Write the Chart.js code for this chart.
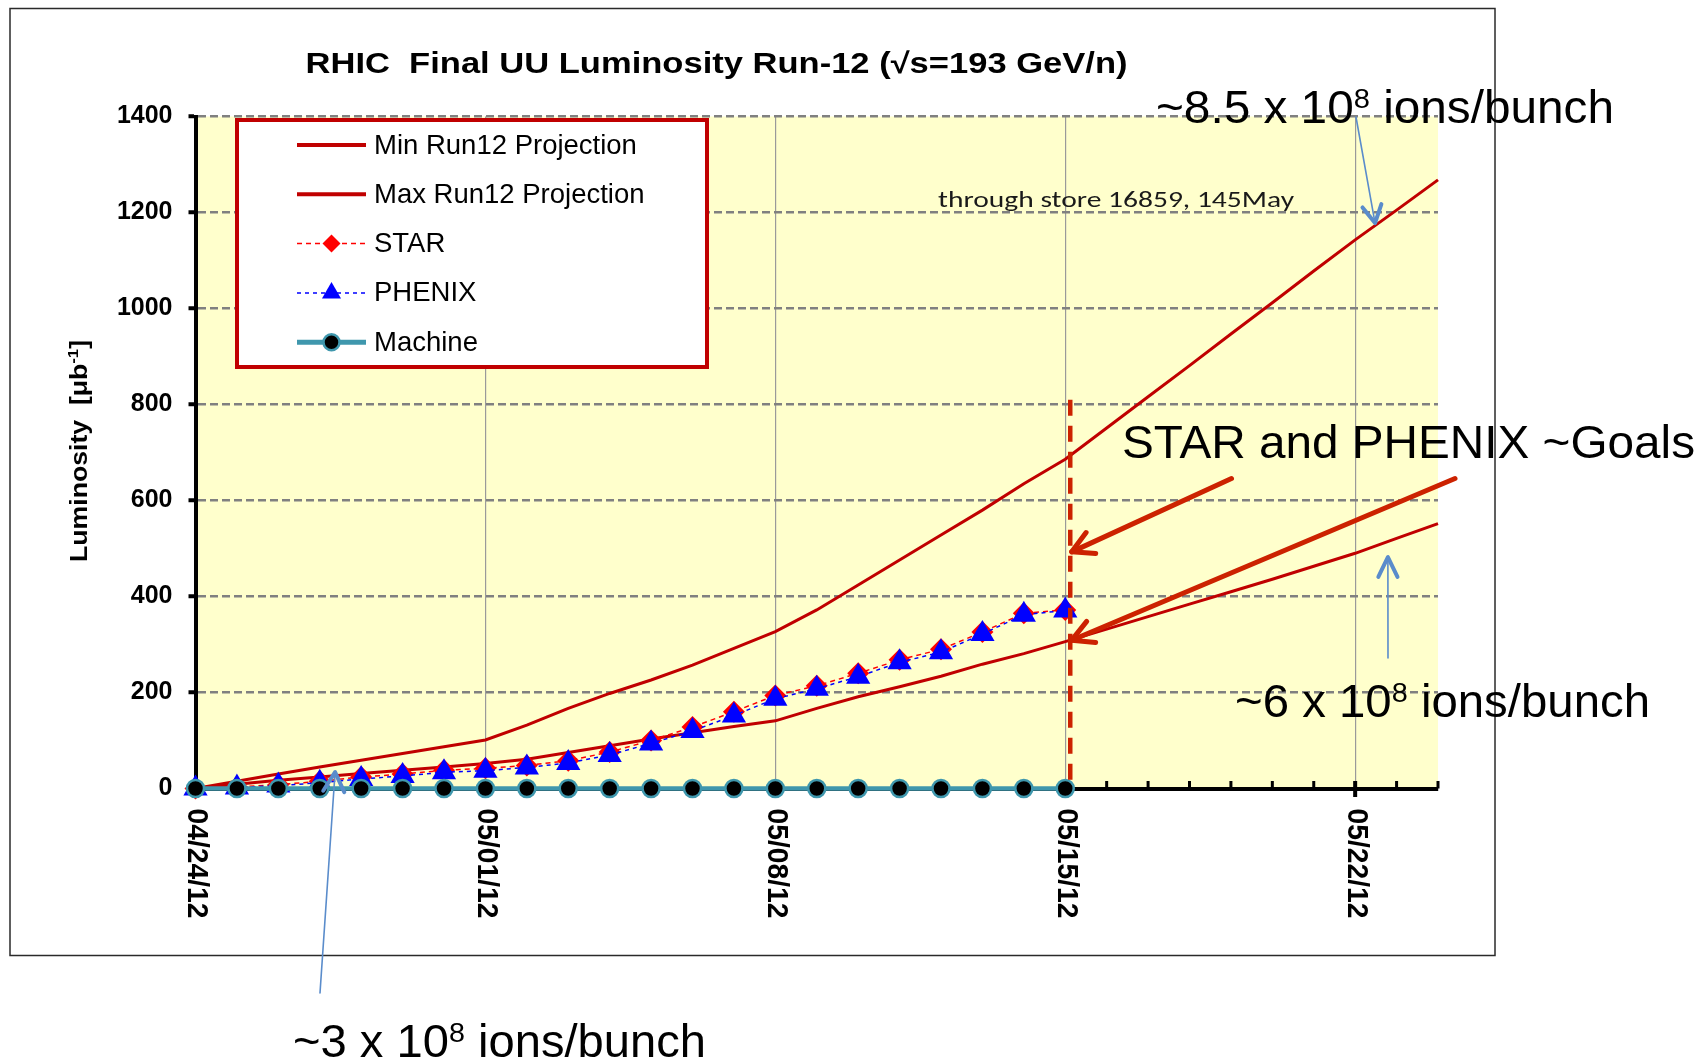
<!DOCTYPE html>
<html>
<head>
<meta charset="utf-8">
<title>RHIC Final UU Luminosity Run-12</title>
<style>
  html, body { margin: 0; padding: 0; background: #ffffff; }
  #wrap { position: relative; width: 1703px; height: 1061px; }
</style>
<script src="https://cdn.jsdelivr.net/npm/chart.js"></script>
</head>
<body>
<div id="wrap"><canvas id="chart" width="1703" height="1061"></canvas></div>
<script>
// ---------------- DATA ----------------
const dates = [
  '04/24/12','04/25/12','04/26/12','04/27/12','04/28/12','04/29/12','04/30/12',
  '05/01/12','05/02/12','05/03/12','05/04/12','05/05/12','05/06/12','05/07/12',
  '05/08/12','05/09/12','05/10/12','05/11/12','05/12/12','05/13/12','05/14/12',
  '05/15/12','05/16/12','05/17/12','05/18/12','05/19/12','05/20/12','05/21/12',
  '05/22/12','05/23/12','05/24/12'
];
const xTickLabels = ['04/24/12','05/01/12','05/08/12','05/15/12','05/22/12'];
const yTickValues = [0, 200, 400, 600, 800, 1000, 1200, 1400];

const minProjection = [0, 9, 17, 24, 31, 38, 45, 52, 61, 75, 89, 103, 116, 129, 141, 167, 191, 212, 234, 259, 281, 306, 332, 358, 384, 410, 436, 463, 490, 521, 552];
const maxProjection = [0, 15, 30, 45, 59, 73, 87, 101, 132, 167, 198, 226, 257, 292, 327, 372, 424, 476, 528, 580, 635, 686, 751, 816, 881, 947, 1012, 1078, 1143, 1205, 1268];
const starValues    = [0, 3, 8, 15, 24, 30, 38, 42, 48, 58, 76, 100, 128, 160, 194, 214, 240, 268, 290, 326, 365, 372];
const phenixValues  = [0, 2, 6, 12, 20, 26, 34, 37, 44, 53, 70, 94, 120, 152, 187, 208, 233, 263, 284, 322, 362, 371];
const machineValues = [0, 0, 0, 0, 0, 0, 0, 0, 0, 0, 0, 0, 0, 0, 0, 0, 0, 0, 0, 0, 0, 0];

const seriesNames = ['Min Run12 Projection', 'Max Run12 Projection', 'STAR', 'PHENIX', 'Machine'];
const chartTitle = 'RHIC  Final UU Luminosity Run-12 (\u221As=193 GeV/n)';
const yTitleParts = [{t: 'Luminosity  [\u03BCb'}, {t: '-1', sup: true}, {t: ']'}];
const storeNote = 'through store 16859, 145May';
const goalsNote = 'STAR and PHENIX ~Goals';
const ions85 = [{t: '~8.5 x 10'}, {t: '8', sup: true}, {t: ' ions/bunch'}];
const ions6  = [{t: '~6 x 10'}, {t: '8', sup: true}, {t: ' ions/bunch'}];
const ions3  = [{t: '~3 x 10'}, {t: '8', sup: true}, {t: ' ions/bunch'}];

// ---------------- STYLE ----------------
const ARIAL = "'Liberation Sans', Arial, sans-serif";
const CALIBRI = "Carlito, Lato, 'Open Sans', sans-serif";
const PROJ_RED = '#C00000';
const ANNOT_RED = '#CC2200';
const ANNOT_BLUE = '#5A8CCB';
const TEAL = '#3F97AD';

// ---------------- HELPERS ----------------
function drawRich(ctx, parts, o) {
  ctx.save();
  ctx.translate(o.x, o.y);
  if (o.rotate) ctx.rotate(o.rotate);
  ctx.textBaseline = 'alphabetic';
  ctx.textAlign = 'left';
  ctx.fillStyle = o.color || '#000';
  const fontFor = sup => `${o.weight || 'normal'} ${sup ? o.supSize : o.size}px ${o.family}`;
  let total = 0;
  const widths = parts.map(p => { ctx.font = fontFor(p.sup); const w = ctx.measureText(p.t).width; total += w; return w; });
  const sx = o.targetW ? o.targetW / total : 1;
  ctx.scale(sx, 1);
  let cx = o.align === 'center' ? -total / 2 : 0;
  parts.forEach((p, i) => {
    ctx.font = fontFor(p.sup);
    ctx.fillText(p.t, cx, p.sup ? -o.supRise : 0);
    cx += widths[i];
  });
  ctx.restore();
}

function arrow(ctx, x1, y1, x2, y2, color, w, headLen, headAng, headW) {
  ctx.save();
  ctx.strokeStyle = color;
  ctx.lineWidth = w;
  ctx.lineCap = 'round';
  ctx.beginPath(); ctx.moveTo(x1, y1); ctx.lineTo(x2, y2); ctx.stroke();
  const a = Math.atan2(y2 - y1, x2 - x1);
  ctx.lineWidth = headW || w;
  ctx.lineJoin = 'round';
  ctx.beginPath();
  ctx.moveTo(x2 - headLen * Math.cos(a - headAng), y2 - headLen * Math.sin(a - headAng));
  ctx.lineTo(x2, y2);
  ctx.lineTo(x2 - headLen * Math.cos(a + headAng), y2 - headLen * Math.sin(a + headAng));
  ctx.stroke();
  ctx.restore();
}

function drawMarker(ctx, ds, x, y, radius) {
  const style = ds.pointStyle;
  if (!style || !ds.pointRadius) return;
  ctx.save();
  ctx.setLineDash([]);
  ctx.fillStyle = ds.pointBackgroundColor;
  ctx.strokeStyle = ds.pointBorderColor;
  ctx.lineWidth = ds.pointBorderWidth || 0;
  Chart.helpers.drawPoint(ctx, {pointStyle: style, radius: radius, rotation: 0, borderWidth: ds.pointBorderWidth || 0}, x, y);
  ctx.restore();
}

// ---------------- PLUGIN ----------------
const decorPlugin = {
  id: 'decor',
  beforeDraw(chart) {
    const {ctx, chartArea: a} = chart;
    ctx.save();
    ctx.fillStyle = '#ffffff';
    ctx.fillRect(0, 0, chart.width, chart.height);
    ctx.fillStyle = '#FFFFCC';
    ctx.fillRect(a.left, a.top, a.right - a.left, a.bottom - a.top);
    ctx.restore();
  },
  beforeDatasetsDraw(chart) {
    // daily minor ticks (inside) and weekly major ticks (crossing) on the date axis
    const {ctx, chartArea: a} = chart;
    const xs = chart.scales.x;
    ctx.save();
    ctx.strokeStyle = '#000';
    dates.forEach((d, i) => {
      const x = xs.getPixelForValue(i);
      const major = xTickLabels.includes(d);
      ctx.lineWidth = major ? 4 : 3;
      ctx.beginPath();
      ctx.moveTo(x, a.bottom - 7.5);
      ctx.lineTo(x, a.bottom + (major ? 8.5 : 0));
      ctx.stroke();
    });
    ctx.restore();
  },
  afterDraw(chart) {
    const {ctx, chartArea: a} = chart;
    const xs = chart.scales.x, ys = chart.scales.y;
    const P = (xi, v) => [xs.getPixelForValue(xi), ys.getPixelForValue(v)];

    // x tick labels, rotated clockwise (read top to bottom)
    ctx.save();
    ctx.fillStyle = '#000';
    xTickLabels.forEach(lbl => {
      const x = xs.getPixelForValue(dates.indexOf(lbl));
      ctx.save();
      ctx.translate(x + 1, a.bottom + 20);
      ctx.rotate(Math.PI / 2);
      ctx.font = `bold 30px ${ARIAL}`;
      ctx.textBaseline = 'middle';
      ctx.textAlign = 'left';
      const w = ctx.measureText(lbl).width;
      ctx.scale(110 / w, 1);
      ctx.fillText(lbl, 0, 0);
      ctx.restore();
    });
    ctx.restore();

    // y axis title
    drawRich(ctx, yTitleParts, {x: 86.5, y: 451, rotate: -Math.PI / 2, align: 'center',
      family: ARIAL, weight: 'bold', size: 24, supSize: 15, supRise: 9, targetW: 222});

    // chart title
    drawRich(ctx, [{t: chartTitle}], {x: 305.5, y: 72.5, family: ARIAL, weight: 'bold', size: 29, targetW: 822});

    // legend
    const lg = {x: 237, y: 120, w: 470, h: 247};
    ctx.save();
    ctx.fillStyle = '#ffffff';
    ctx.fillRect(lg.x, lg.y, lg.w, lg.h);
    ctx.strokeStyle = PROJ_RED;
    ctx.lineWidth = 4;
    ctx.strokeRect(lg.x, lg.y, lg.w, lg.h);
    const dsets = chart.data.datasets;
    const legendMarkerR = [0, 0, 9, 11, 8];
    dsets.forEach((ds, i) => {
      const cy = lg.y + 25 + i * 49.3;
      ctx.save();
      ctx.strokeStyle = ds.borderColor;
      ctx.lineWidth = i < 2 ? 4 : (i === 4 ? 5 : 1.5);
      ctx.setLineDash(ds.borderDash || []);
      ctx.beginPath(); ctx.moveTo(lg.x + 60, cy); ctx.lineTo(lg.x + 129, cy); ctx.stroke();
      ctx.restore();
      drawMarker(ctx, ds, lg.x + 94.5, cy, legendMarkerR[i]);
      ctx.fillStyle = '#000';
      ctx.font = `27.5px ${ARIAL}`;
      ctx.textBaseline = 'middle';
      ctx.textAlign = 'left';
      ctx.fillText(ds.label, lg.x + 137, cy + 1);
    });
    ctx.restore();

    // note inside plot
    drawRich(ctx, [{t: storeNote}], {x: 938, y: 206.5, family: CALIBRI, size: 22, targetW: 356, color: '#1a1a1a'});

    // outer chart frame
    ctx.save();
    ctx.strokeStyle = '#2a2a2a';
    ctx.lineWidth = 1.5;
    ctx.strokeRect(10, 8.5, 1485, 947);
    ctx.restore();

    // red dashed line at 05/15
    const xMay15 = xs.getPixelForValue(dates.indexOf('05/15/12')) + 5;
    ctx.save();
    ctx.strokeStyle = ANNOT_RED;
    ctx.lineWidth = 4.5;
    ctx.setLineDash([16, 10]);
    ctx.beginPath();
    ctx.moveTo(xMay15, ys.getPixelForValue(810));
    ctx.lineTo(xMay15, ys.getPixelForValue(0));
    ctx.stroke();
    ctx.restore();

    // red goal arrows
    arrow(ctx, 1231.5, 478.5, xMay15 + 1.5, ys.getPixelForValue(493), ANNOT_RED, 5, 24, 0.5);
    arrow(ctx, 1455, 478.5, xMay15 + 1.5, ys.getPixelForValue(309), ANNOT_RED, 5, 24, 0.5);

    // blue arrows
    let t = P(28.48, 1178);
    arrow(ctx, 1356, 117, t[0], t[1], ANNOT_BLUE, 1.6, 20, 0.5, 4);
    t = P(28.79, 482);
    arrow(ctx, 1388, 658, t[0], t[1], ANNOT_BLUE, 1.6, 22, 0.45, 4);
    t = P(3.37, 34);
    arrow(ctx, 320, 993, t[0], t[1], ANNOT_BLUE, 1.6, 22, 0.5, 4);

    // big annotation texts
    const big = {family: ARIAL, size: 46, supSize: 28, supRise: 15};
    drawRich(ctx, ions85, Object.assign({x: 1156, y: 123, targetW: 458}, big));
    drawRich(ctx, [{t: goalsNote}], Object.assign({x: 1122, y: 458, targetW: 573}, big));
    drawRich(ctx, ions6, Object.assign({x: 1235, y: 716.5, targetW: 415}, big));
    drawRich(ctx, ions3, Object.assign({x: 293, y: 1056.5, targetW: 413}, big));
  }
};

// ---------------- CHART ----------------
const ctx = document.getElementById('chart').getContext('2d');
new Chart(ctx, {
  type: 'line',
  data: {
    labels: dates,
    datasets: [
      {label: seriesNames[0], data: minProjection, borderColor: PROJ_RED, borderWidth: 3, pointRadius: 0, fill: false, tension: 0, order: 5, clip: false},
      {label: seriesNames[1], data: maxProjection, borderColor: PROJ_RED, borderWidth: 3, pointRadius: 0, fill: false, tension: 0, order: 4, clip: false},
      {label: seriesNames[2], data: starValues, borderColor: '#FF0000', borderWidth: 1.5, borderDash: [5, 4], clip: false,
       pointStyle: 'rectRot', pointRadius: 11, pointBackgroundColor: '#FF0000', pointBorderColor: '#FF0000', pointBorderWidth: 0, fill: false, order: 3},
      {label: seriesNames[3], data: phenixValues, borderColor: '#0000FF', borderWidth: 1.5, borderDash: [4, 4], clip: false,
       pointStyle: 'triangle', pointRadius: 14, pointBackgroundColor: '#0000FF', pointBorderColor: '#0000FF', pointBorderWidth: 0, fill: false, order: 2},
      {label: seriesNames[4], data: machineValues, borderColor: TEAL, borderWidth: 4.5, clip: false,
       pointStyle: 'circle', pointRadius: 8.5, pointBackgroundColor: '#000000', pointBorderColor: TEAL, pointBorderWidth: 2.5, fill: false, order: 1}
    ]
  },
  options: {
    responsive: false,
    animation: false,
    events: [],
    devicePixelRatio: 1,
    layout: {padding: {left: 0, top: 116.5, right: 265, bottom: 0}},
    plugins: {legend: {display: false}, tooltip: {enabled: false}, title: {display: false}},
    scales: {
      x: {
        type: 'category',
        offset: false,
        ticks: {display: false, autoSkip: false},
        grid: {
          drawTicks: false,
          lineWidth: 1.2,
          color: c => (c.tick && c.index > 0 && xTickLabels.includes(dates[c.index])) ? '#9a9a9a' : 'rgba(0,0,0,0)'
        },
        border: {display: true, color: '#000', width: 4},
        afterFit: s => { s.height = 272.5; }
      },
      y: {
        type: 'linear',
        min: 0,
        max: 1400,
        afterBuildTicks: s => { s.ticks = yTickValues.map(v => ({value: v})); },
        ticks: {color: '#000', padding: 16, font: {family: ARIAL, size: 25, weight: 'bold'}, callback: v => String(v)},
        grid: {
          color: c => (c.tick && c.tick.value === 0) ? 'rgba(0,0,0,0)' : '#808080',
          lineWidth: 2.5,
          drawTicks: true,
          tickLength: 7,
          tickColor: '#000',
          tickWidth: 4
        },
        border: {display: true, color: '#000', width: 4, dash: [8, 4]},
        afterFit: s => { s.width = 195.5; }
      }
    }
  },
  plugins: [decorPlugin]
});
</script>
</body>
</html>
